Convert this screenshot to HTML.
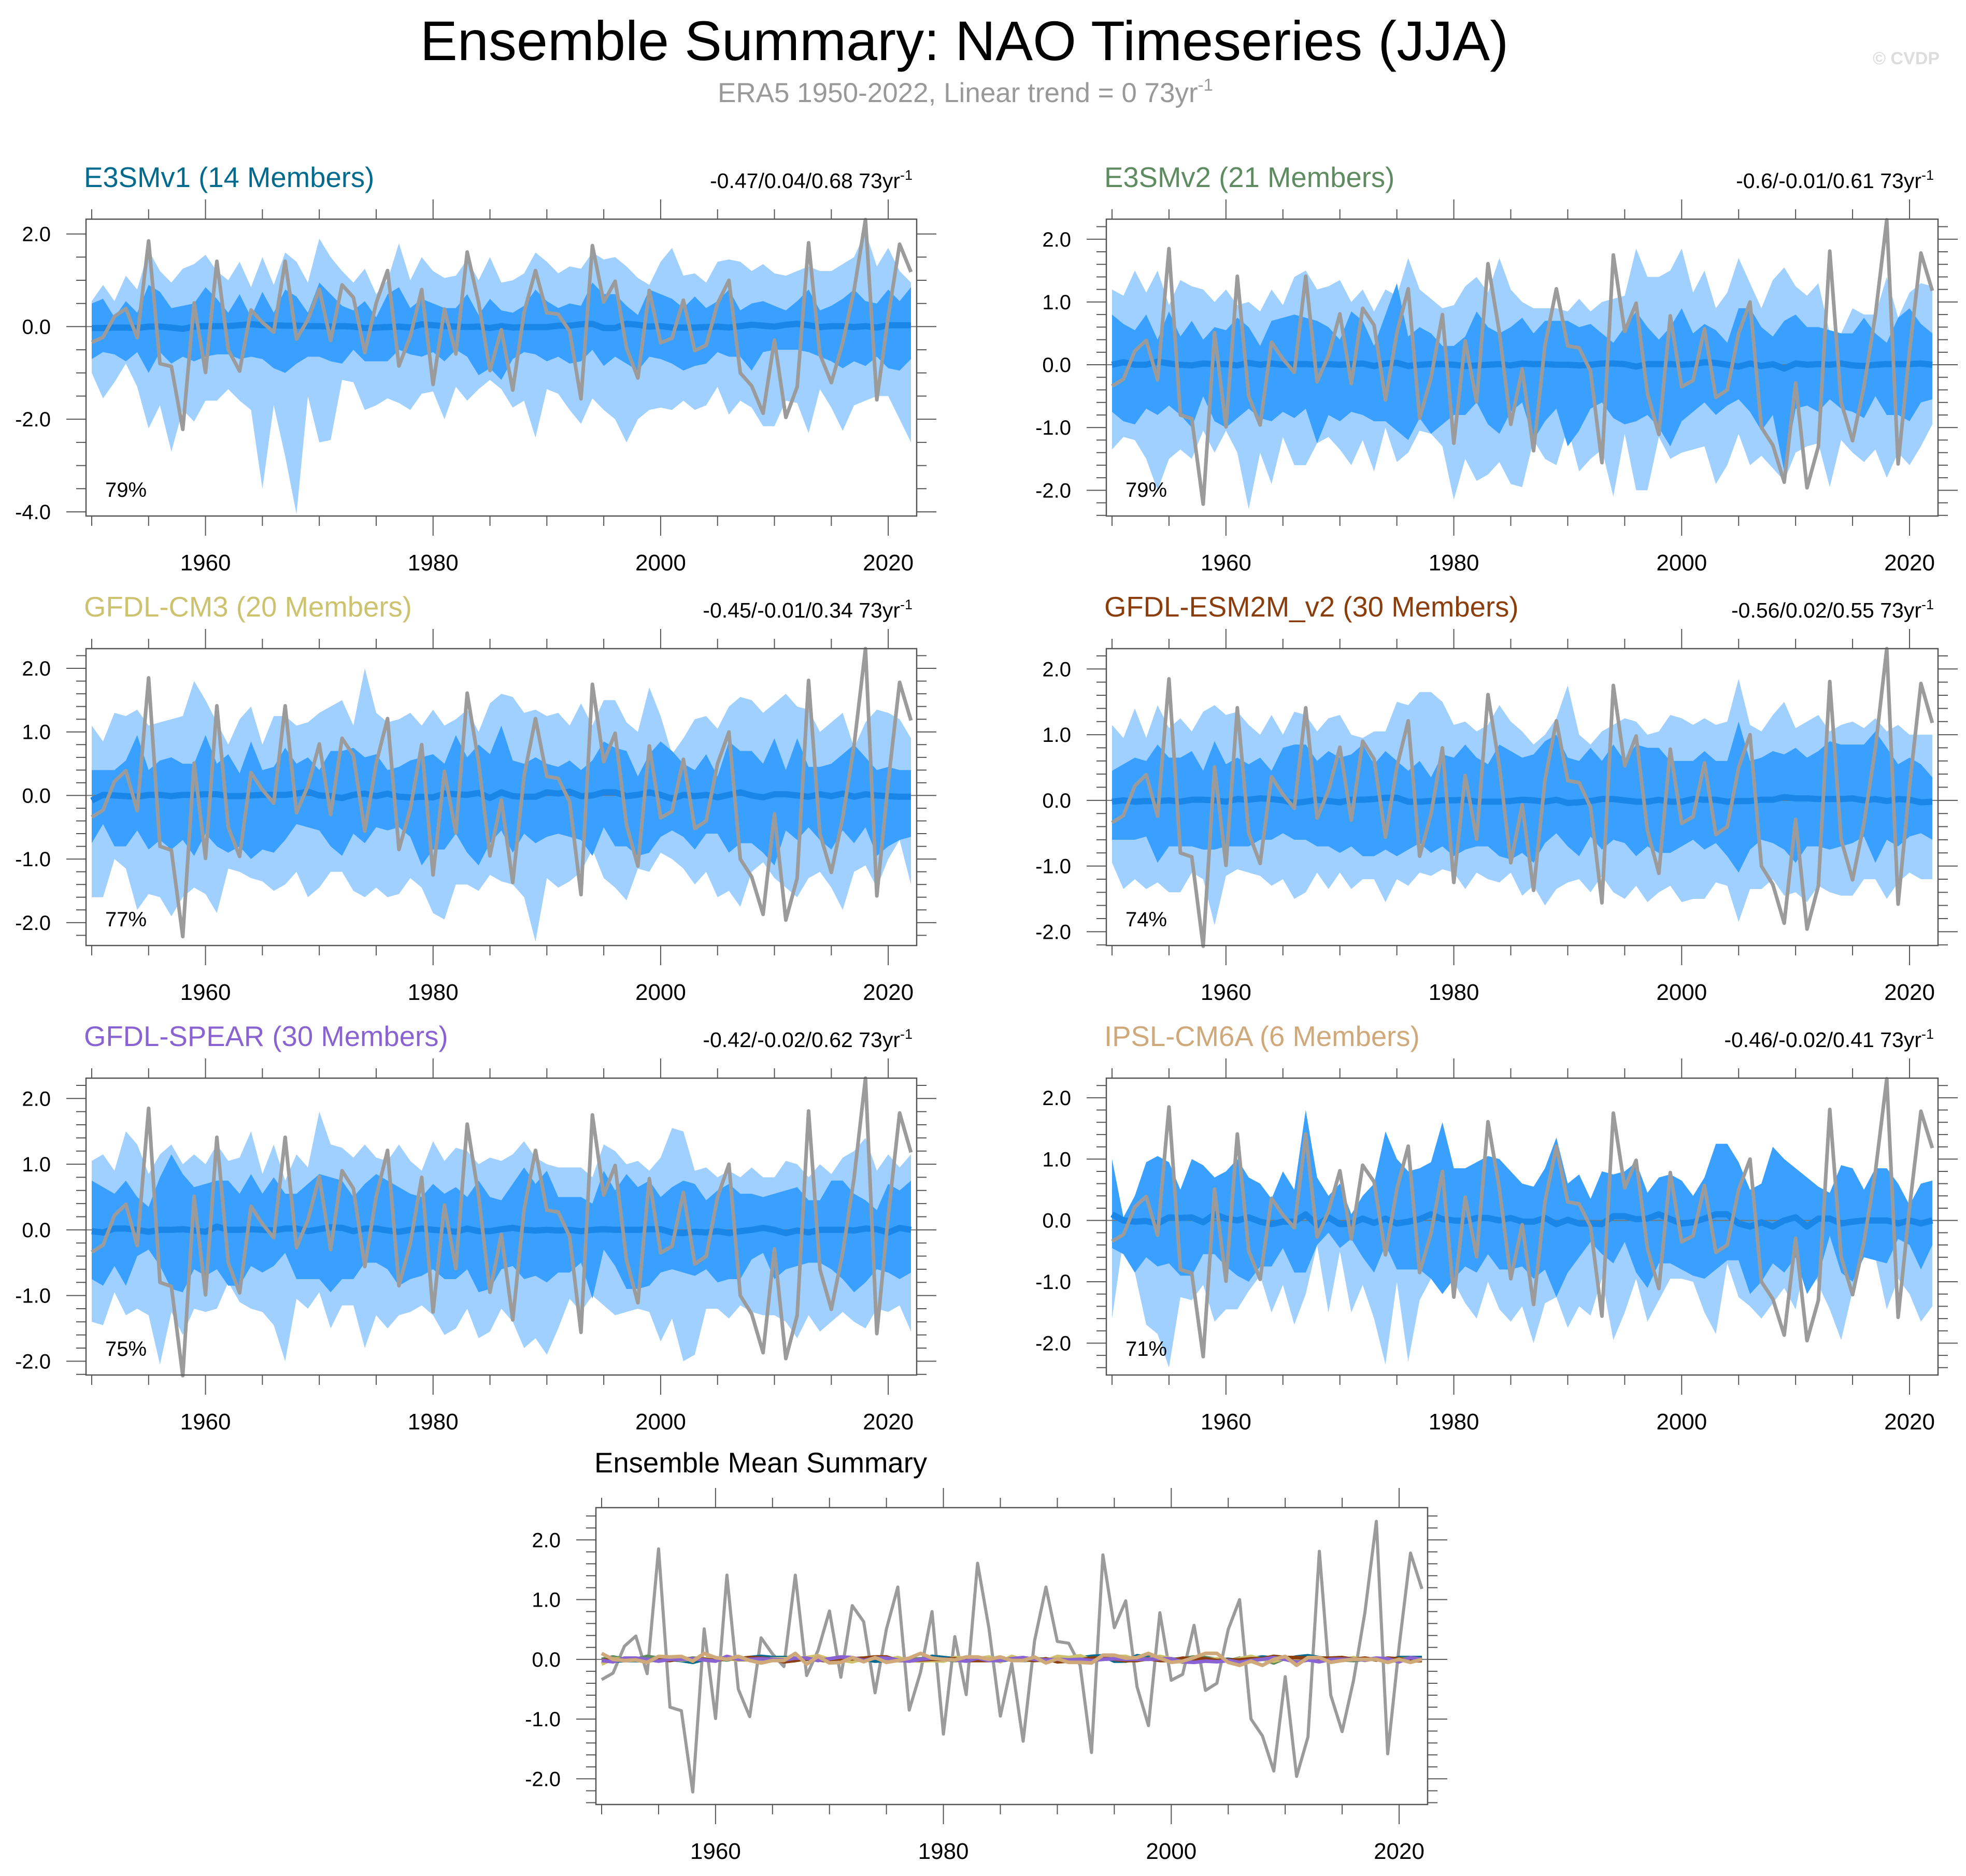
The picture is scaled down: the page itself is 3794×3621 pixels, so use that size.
<!DOCTYPE html>
<html><head><meta charset="utf-8"><style>
html,body{margin:0;padding:0;background:#fff;}
svg{display:block;font-family:"Liberation Sans",sans-serif;}
</style></head><body>
<svg id="chart" width="3794" height="3621" viewBox="0 0 3794 3621" xmlns="http://www.w3.org/2000/svg">
<rect x="0" y="0" width="3794" height="3621" fill="#fff"/>
<text x="1861" y="116" font-size="108" text-anchor="middle" fill="#000">Ensemble Summary: NAO Timeseries (JJA)</text>
<text x="1863" y="197" font-size="53" text-anchor="middle" fill="#999">ERA5 1950-2022, Linear trend = 0 73yr<tspan dy="-22" font-size="33">-1</tspan></text>
<text x="3743" y="124" font-size="34" font-weight="bold" text-anchor="end" fill="#ddd">© CVDP</text>
<text x="1147" y="2842" font-size="54.5" fill="#000">Ensemble Mean Summary</text>
<g id="panels"></g>
</svg>
<script>
const years = [];
for (let y = 1950; y <= 2022; y++) years.push(y);
const obs = [-0.34,-0.23,0.22,0.39,-0.24,1.85,-0.80,-0.86,-2.22,0.51,-0.99,1.41,-0.50,-0.96,0.36,0.09,-0.12,1.41,-0.27,0.15,0.81,-0.30,0.90,0.63,-0.56,0.51,1.21,-0.85,-0.21,0.80,-1.25,0.38,-0.59,1.61,0.52,-0.95,-0.07,-1.37,0.31,1.21,0.30,0.27,-0.10,-1.56,1.75,0.53,0.98,-0.46,-1.11,0.78,-0.35,-0.25,0.57,-0.52,-0.40,0.50,1.00,-1.00,-1.28,-1.87,-0.29,-1.96,-1.30,1.81,-0.60,-1.21,-0.35,0.79,2.31,-1.58,0.21,1.78,1.18];

const p1OuterUpper = [0.55,0.9,0.55,1.1,0.8,1.65,1.2,0.95,1.25,1.35,1.55,1.2,1.0,1.4,0.85,1.5,0.9,1.6,1.4,0.95,1.9,1.5,1.2,0.95,1.25,0.7,1.0,1.8,1.0,1.5,1.2,1.05,1.1,1.45,1.0,1.5,0.95,1.0,1.15,1.6,1.4,1.15,1.3,1.25,1.6,1.45,1.5,1.3,1.05,0.9,1.4,1.7,1.1,1.15,0.95,1.4,1.45,1.4,1.2,1.35,1.15,1.1,1.2,1.3,1.2,1.2,1.35,1.5,2.05,1.3,1.7,1.2,0.95];
const p1InnerUpper = [0.5,0.6,0.2,0.55,0.3,0.9,0.75,0.4,0.45,0.5,0.85,0.6,0.3,0.7,0.2,0.75,0.3,0.8,0.65,0.3,0.95,0.7,0.45,0.35,0.55,0.2,0.7,0.85,0.4,0.6,0.5,0.4,0.4,0.7,0.25,0.6,0.35,0.3,0.45,0.8,0.55,0.4,0.5,0.45,0.95,0.7,0.7,0.45,0.25,0.8,0.7,0.6,0.4,0.65,0.4,0.55,0.8,0.35,0.5,0.55,0.45,0.35,0.55,0.8,0.35,0.45,0.6,0.8,0.55,0.5,0.8,0.55,0.85];
const p1InnerLower = [-0.7,-0.55,-0.6,-0.75,-0.55,-1.0,-0.55,-0.8,-0.65,-0.75,-0.65,-0.6,-0.6,-0.7,-0.65,-0.7,-0.9,-1.0,-0.8,-0.65,-0.65,-0.75,-0.8,-0.5,-0.75,-0.75,-0.75,-0.5,-0.6,-0.65,-0.55,-0.75,-0.5,-0.65,-1.05,-0.9,-1.15,-0.7,-0.55,-0.6,-0.75,-0.65,-0.8,-0.75,-0.5,-0.85,-0.65,-0.8,-0.95,-0.65,-0.7,-0.8,-0.95,-0.85,-0.8,-0.55,-0.65,-0.65,-0.95,-0.55,-0.5,-0.5,-0.5,-0.55,-0.65,-0.75,-0.9,-0.75,-0.85,-0.65,-0.9,-0.95,-0.7];
const p1OuterLower = [-1.0,-1.55,-1.2,-0.8,-1.3,-2.2,-1.7,-2.7,-1.8,-2.05,-1.6,-1.6,-1.35,-1.6,-1.8,-3.5,-1.7,-2.8,-4.05,-1.5,-2.5,-2.45,-1.15,-1.2,-1.8,-1.7,-1.55,-1.65,-1.8,-1.45,-1.4,-2.0,-1.3,-1.6,-1.35,-1.15,-1.35,-1.75,-1.6,-2.4,-1.35,-1.45,-1.8,-2.1,-1.55,-1.8,-2.0,-2.5,-2.0,-1.8,-1.75,-1.8,-1.6,-1.8,-1.7,-1.3,-1.9,-1.6,-1.75,-2.15,-2.15,-1.6,-1.65,-2.3,-1.35,-1.75,-2.25,-1.7,-1.6,-1.5,-1.5,-2.0,-2.5];
const p1Mean = [-0.03,-0.03,-0.02,-0.02,-0.03,0.0,0.0,-0.02,-0.05,0.0,0.01,0.01,0.01,0.03,0.05,0.03,0.03,0.02,0.02,0.01,0.01,0.0,0.01,0.0,-0.03,-0.02,-0.01,0.0,-0.02,0.05,0.03,0.01,0.0,-0.01,0.0,-0.03,0.01,-0.02,-0.01,-0.01,-0.01,0.02,0.02,0.05,0.06,-0.03,-0.03,0.06,0.04,0.0,0.01,-0.02,-0.02,-0.02,-0.01,0.0,-0.02,0.01,0.04,0.02,0.0,0.04,0.06,0.03,-0.01,0.01,0.01,-0.01,0.01,-0.02,0.03,0.03,0.03];

const p2OuterUpper = [1.2,1.1,1.5,1.15,1.5,0.95,1.35,1.25,1.2,1.0,1.2,0.95,1.0,0.85,1.2,0.95,1.4,1.5,1.2,1.25,1.35,1.0,1.2,0.85,1.2,1.1,1.7,1.2,1.05,0.9,0.95,1.25,1.4,1.15,1.7,1.2,1.0,0.9,0.9,0.9,0.85,1.05,0.85,1.0,1.05,1.1,1.85,1.4,1.4,1.5,1.85,1.15,1.5,0.9,1.15,1.7,1.3,0.9,1.35,1.55,1.25,1.1,1.3,0.5,0.5,0.9,0.8,0.8,1.4,0.75,1.15,1.3,1.25];
const p2InnerUpper = [0.8,0.65,0.55,0.8,0.4,0.85,0.45,0.7,0.4,0.6,0.55,0.75,0.6,0.3,0.7,0.75,0.8,0.75,0.7,0.6,0.4,0.85,0.7,0.3,0.8,1.3,0.45,0.6,0.5,0.3,0.3,0.45,0.85,0.6,0.5,0.6,0.75,0.5,0.7,0.7,0.7,0.6,0.65,0.5,0.35,0.6,0.85,0.6,0.4,0.6,0.9,0.5,0.65,0.55,0.35,0.9,0.9,0.6,0.45,0.7,0.8,0.6,0.6,0.55,0.5,0.5,0.75,0.5,0.35,0.75,0.9,0.65,0.5];
const p2InnerLower = [-0.75,-0.9,-0.95,-0.7,-0.8,-0.65,-0.8,-1.0,-0.5,-0.9,-1.0,-0.85,-0.7,-0.85,-0.9,-0.75,-0.85,-0.7,-1.25,-0.8,-0.9,-0.75,-0.8,-0.9,-0.9,-1.05,-1.2,-0.85,-1.1,-0.95,-0.8,-0.8,-0.6,-0.95,-1.1,-0.75,-0.6,-1.2,-0.9,-0.7,-1.3,-1.05,-0.7,-0.6,-0.85,-0.95,-0.9,-0.8,-1.0,-1.3,-0.9,-0.75,-0.6,-0.8,-0.65,-0.55,-0.75,-1.05,-0.8,-1.7,-0.7,-0.65,-0.75,-0.55,-0.7,-0.75,-0.85,-0.5,-0.8,-0.8,-0.9,-0.6,-0.55];
const p2OuterLower = [-1.35,-1.15,-1.2,-1.5,-2.0,-1.5,-1.35,-1.5,-1.05,-1.4,-1.05,-1.4,-2.3,-1.4,-1.9,-1.15,-1.6,-1.6,-1.25,-1.15,-1.35,-1.6,-1.2,-1.7,-1.0,-1.55,-1.4,-1.05,-1.1,-1.3,-2.15,-1.5,-1.85,-1.75,-1.55,-1.9,-1.95,-1.2,-1.5,-1.6,-1.0,-1.7,-1.5,-1.35,-2.1,-1.1,-2.0,-2.0,-1.15,-1.5,-1.4,-1.35,-1.3,-1.9,-1.6,-1.1,-1.6,-1.45,-1.65,-1.85,-1.4,-1.3,-1.25,-1.95,-1.2,-1.4,-1.55,-1.35,-1.8,-1.4,-1.6,-1.3,-0.95];
const p2Mean = [0.0,0.04,0.0,0.0,0.05,0.02,0.0,-0.01,0.02,0.01,0.01,-0.01,0.03,0.0,0.02,0.0,0.01,0.01,0.0,0.01,0.0,0.01,0.02,-0.02,0.02,0.03,-0.02,0.0,0.01,0.01,0.0,-0.02,-0.01,0.0,0.01,-0.01,0.02,0.01,0.01,0.0,0.0,-0.01,0.0,0.02,0.02,0.01,-0.03,0.01,0.01,0.01,0.0,0.01,0.04,0.03,0.0,-0.03,0.02,-0.02,0.01,-0.06,0.02,0.0,0.01,0.0,0.02,-0.01,-0.02,0.0,0.01,0.01,0.01,0.02,0.0];

const p3OuterUpper = [1.1,0.85,1.3,1.25,1.35,1.1,1.15,1.2,1.25,1.8,1.5,1.15,0.8,1.2,1.4,0.8,1.25,1.25,1.1,1.15,1.3,1.4,1.5,1.1,2.0,1.3,1.15,1.2,1.3,1.1,1.35,1.1,1.2,1.35,1.0,1.45,1.6,1.55,1.3,1.35,1.25,1.3,1.1,1.45,1.1,1.5,1.5,1.15,1.0,1.7,1.25,0.65,0.9,1.2,1.25,1.05,1.4,1.55,1.5,1.3,1.45,1.6,1.4,1.35,1.0,1.15,1.3,0.75,1.15,1.35,1.3,1.2,0.9];
const p3InnerUpper = [0.4,0.4,0.4,0.55,0.95,0.4,0.55,0.6,0.5,0.5,0.95,0.5,0.65,0.35,0.85,0.4,0.45,0.75,0.5,0.6,0.4,0.7,0.7,0.75,0.6,0.65,0.4,0.45,0.55,0.6,0.65,0.5,0.95,0.6,0.8,0.65,1.1,0.55,0.5,0.6,0.5,0.45,0.55,0.4,0.55,0.85,0.75,0.7,0.3,0.65,0.85,0.7,0.5,0.4,0.65,0.3,0.85,0.7,0.7,0.5,0.9,0.4,0.9,0.45,0.45,0.5,0.65,0.8,0.6,0.4,0.45,0.4,0.4];
const p3InnerLower = [-0.75,-0.45,-0.8,-0.8,-0.55,-0.85,-0.7,-0.85,-0.7,-0.95,-0.6,-0.8,-0.9,-0.8,-1.0,-0.85,-0.9,-0.7,-0.45,-0.5,-0.55,-0.8,-0.95,-0.6,-0.75,-0.5,-0.55,-0.5,-0.65,-1.1,-0.85,-0.85,-0.6,-0.9,-1.1,-0.75,-0.55,-0.9,-0.6,-0.75,-0.65,-0.6,-0.65,-0.7,-0.95,-0.5,-0.8,-0.8,-0.95,-0.9,-0.65,-0.55,-0.65,-0.85,-0.6,-0.6,-0.9,-0.75,-0.75,-0.9,-1.1,-0.55,-0.7,-0.5,-0.7,-0.85,-0.55,-0.75,-0.5,-0.95,-0.8,-0.7,-0.65];
const p3OuterLower = [-1.6,-1.6,-1.0,-1.15,-1.8,-1.55,-1.6,-1.9,-1.6,-1.45,-1.55,-1.85,-1.15,-1.2,-1.3,-1.35,-1.5,-1.4,-1.2,-1.6,-1.45,-1.2,-1.2,-1.5,-1.6,-1.45,-1.6,-1.55,-1.3,-1.45,-1.85,-1.95,-1.4,-1.4,-1.5,-1.25,-1.35,-1.4,-1.6,-2.3,-1.3,-1.45,-1.35,-1.2,-0.85,-1.3,-1.45,-1.65,-1.15,-1.2,-0.9,-1.0,-1.15,-1.4,-1.2,-1.6,-1.5,-1.75,-1.2,-1.05,-1.3,-1.45,-1.6,-1.3,-1.2,-1.45,-1.8,-1.2,-1.1,-1.45,-1.0,-0.7,-1.4];
const p3Mean = [-0.08,0.01,0.0,-0.01,-0.02,0.01,0.01,-0.01,0.01,0.01,0.02,0.02,-0.01,-0.01,0.0,0.01,0.01,0.01,0.03,0.06,0.0,-0.01,-0.04,0.01,0.03,-0.01,0.03,-0.02,-0.03,-0.02,-0.03,0.03,0.02,0.01,0.04,-0.04,0.05,-0.01,-0.02,-0.02,0.05,0.03,0.06,-0.01,0.0,0.05,0.05,-0.01,0.01,0.05,0.01,-0.05,0.01,-0.01,0.01,-0.03,0.01,0.05,0.0,-0.03,0.02,0.02,0.0,-0.02,0.02,-0.01,0.03,-0.02,0.02,0.0,-0.01,-0.02,-0.02];

const p4OuterUpper = [1.15,0.95,1.4,0.95,1.45,1.1,1.25,1.05,1.35,1.45,1.3,1.35,1.15,1.0,1.3,1.0,1.35,1.3,1.05,1.25,1.3,1.0,0.95,1.05,1.05,1.5,1.45,1.65,1.65,1.5,1.15,1.2,1.05,1.15,1.45,1.2,1.05,0.85,1.0,1.25,1.75,1.0,0.85,1.05,1.15,1.25,1.2,1.0,1.05,1.3,1.25,1.15,1.25,1.15,1.2,1.85,1.15,1.05,1.3,1.5,1.1,1.2,1.3,1.05,1.15,1.2,1.1,1.25,1.05,1.15,1.0,1.0,1.0];
const p4InnerUpper = [0.45,0.55,0.65,0.6,0.85,0.65,0.65,0.75,0.45,0.9,0.55,0.65,0.55,0.65,0.45,0.8,0.85,0.85,0.6,0.75,0.65,0.7,0.85,0.55,0.75,0.6,0.45,0.6,0.35,0.7,0.65,0.85,0.65,0.55,0.85,0.75,0.65,0.7,0.9,1.0,0.65,0.6,0.8,0.6,0.85,0.6,0.85,0.8,0.8,0.6,0.6,0.6,0.75,0.6,0.6,1.2,0.6,0.65,0.75,0.7,0.8,0.65,0.75,0.9,0.85,0.85,0.85,1.05,0.8,0.55,0.65,0.55,0.35];
const p4InnerLower = [-0.6,-0.6,-0.6,-0.55,-0.95,-0.7,-0.7,-0.7,-0.75,-0.75,-0.7,-0.7,-0.7,-0.6,-0.6,-0.5,-0.6,-0.6,-0.7,-0.7,-0.8,-0.7,-0.85,-0.85,-0.75,-0.85,-0.75,-0.65,-0.8,-0.7,-0.85,-0.75,-0.7,-0.7,-0.85,-0.9,-0.8,-0.95,-0.65,-0.5,-0.7,-0.85,-0.55,-0.75,-0.6,-0.65,-0.85,-0.7,-0.8,-0.8,-0.7,-0.6,-0.75,-0.65,-0.85,-1.1,-0.75,-0.6,-0.65,-0.75,-0.95,-0.7,-0.7,-0.75,-0.7,-0.65,-0.55,-0.95,-0.6,-0.7,-0.55,-0.5,-0.6];
const p4OuterLower = [-0.95,-1.35,-1.2,-1.35,-1.25,-1.4,-1.4,-1.1,-1.2,-1.9,-1.15,-1.05,-1.1,-1.15,-1.3,-1.2,-1.5,-1.4,-1.1,-1.35,-1.1,-1.35,-1.2,-1.2,-1.55,-1.2,-1.3,-1.1,-1.15,-1.05,-1.1,-1.35,-1.1,-1.2,-1.25,-1.1,-1.45,-1.3,-1.6,-1.35,-1.25,-1.2,-1.4,-1.15,-1.4,-1.5,-1.3,-1.55,-1.4,-1.3,-1.55,-1.5,-1.5,-1.25,-1.3,-1.85,-1.35,-1.35,-1.2,-1.45,-1.4,-1.55,-1.3,-1.4,-1.45,-1.45,-1.2,-1.2,-1.5,-1.25,-1.1,-1.2,-1.2];
const p4Mean = [-0.02,0.0,-0.02,-0.01,-0.01,0.0,-0.02,0.01,0.01,0.0,-0.02,0.02,0.01,0.03,0.02,0.0,-0.04,-0.02,0.01,-0.01,-0.03,0.01,0.01,0.02,0.04,0.04,-0.02,-0.02,-0.01,0.0,0.0,0.01,-0.02,-0.02,-0.02,-0.01,0.01,0.0,-0.02,0.01,-0.04,-0.03,-0.01,0.02,0.02,0.0,-0.02,-0.02,0.01,-0.02,-0.02,0.02,0.01,0.01,-0.02,-0.01,-0.01,0.01,0.01,0.05,0.03,0.03,0.02,0.02,0.02,0.03,0.0,0.02,-0.01,0.02,0.01,-0.03,-0.02];

const p5OuterUpper = [1.05,1.15,0.9,1.5,1.3,0.85,1.15,1.3,1.0,1.15,1.0,1.3,1.05,1.1,1.5,0.85,1.3,0.75,1.15,0.95,1.8,1.3,1.25,1.1,1.3,1.1,1.05,1.3,1.05,0.9,1.35,1.05,1.25,1.2,1.0,1.1,1.05,1.15,1.35,1.1,1.0,0.95,0.95,0.95,0.8,1.3,1.2,1.0,1.05,0.9,1.1,1.55,1.5,0.9,0.95,0.8,0.9,0.8,0.95,0.8,0.8,1.05,1.0,0.8,1.0,0.85,1.1,1.2,1.4,0.9,1.15,0.95,1.15];
const p5InnerUpper = [0.75,0.65,0.55,0.75,0.5,0.35,0.8,1.15,0.85,0.65,0.7,0.75,0.75,0.55,0.85,0.55,0.8,0.55,0.55,0.7,0.85,0.8,0.75,0.5,0.7,0.85,0.75,0.65,0.55,0.5,0.7,0.55,0.65,0.5,0.75,0.5,0.45,0.7,0.95,0.7,0.9,0.5,0.5,0.5,0.4,0.9,0.6,0.85,0.65,0.75,0.5,0.65,0.75,0.7,0.45,0.6,0.7,0.55,0.55,0.5,0.55,0.6,0.65,0.45,0.45,0.75,0.75,0.55,0.45,0.3,0.7,0.6,0.75];
const p5InnerLower = [-0.75,-0.85,-0.55,-0.85,-0.4,-0.3,-0.55,-0.9,-0.95,-0.6,-0.7,-0.6,-0.85,-0.85,-0.55,-0.65,-0.55,-0.35,-0.75,-0.75,-0.75,-0.95,-0.75,-0.75,-0.5,-0.5,-0.6,-0.85,-0.75,-0.7,-0.6,-0.75,-0.75,-0.6,-0.95,-0.9,-0.6,-0.55,-0.75,-0.7,-0.8,-0.65,-0.65,-0.5,-1.05,-0.3,-0.55,-0.9,-0.9,-0.85,-0.65,-0.6,-0.65,-0.7,-0.6,-0.8,-0.75,-0.75,-0.45,-0.35,-0.75,-0.6,-0.55,-0.5,-0.5,-0.6,-0.75,-0.95,-0.8,-0.6,-0.65,-0.75,-0.65];
const p5OuterLower = [-1.4,-1.45,-0.95,-1.3,-1.2,-1.3,-2.05,-1.25,-1.6,-1.2,-1.25,-1.2,-0.8,-1.1,-1.2,-1.25,-1.45,-2.0,-1.05,-1.2,-0.95,-1.5,-1.15,-1.15,-1.8,-1.3,-1.5,-1.3,-1.25,-1.15,-1.3,-1.6,-1.5,-1.2,-1.65,-1.55,-1.2,-1.4,-1.8,-1.65,-1.9,-1.5,-1.05,-1.25,-1.0,-1.15,-1.3,-1.25,-1.2,-1.25,-1.7,-1.35,-2.0,-1.9,-1.2,-1.2,-1.35,-1.15,-1.25,-1.3,-1.3,-1.4,-1.65,-1.3,-1.55,-1.4,-1.25,-1.4,-1.5,-1.2,-1.25,-1.15,-1.55];
const p5Mean = [-0.02,-0.04,0.02,0.02,0.0,-0.03,0.0,0.0,0.01,-0.01,-0.03,0.05,0.0,0.0,0.01,0.0,-0.01,0.02,0.02,-0.02,0.01,0.04,0.03,-0.02,0.02,0.02,-0.01,-0.03,0.0,0.02,0.0,-0.01,-0.03,0.02,-0.02,-0.02,0.01,0.03,0.0,-0.01,0.0,-0.01,0.0,-0.02,0.0,0.01,0.0,0.0,0.0,0.01,0.01,-0.04,-0.05,-0.03,-0.04,-0.02,-0.05,-0.02,0.0,0.03,0.0,-0.05,-0.01,-0.04,0.0,0.0,0.0,-0.01,0.02,0.01,-0.04,0.03,0.0];

const p6Upper = [1.0,0.05,0.4,0.95,1.05,0.95,0.5,1.0,0.9,0.7,0.8,1.0,0.7,0.6,0.35,0.8,0.5,1.8,0.7,0.4,0.6,0.1,0.4,0.6,1.45,1.0,0.8,0.85,0.95,1.6,0.85,0.85,0.95,1.05,1.0,0.8,0.6,0.55,0.85,1.35,0.6,0.75,0.35,0.8,0.75,0.8,0.95,0.45,0.7,0.75,0.65,0.4,0.7,1.25,1.25,0.95,0.5,0.6,1.2,1.0,0.85,0.7,0.55,0.45,0.9,0.85,0.5,0.85,0.85,0.6,0.25,0.6,0.65];
const p6InnerLower = [-0.45,-0.55,-0.85,-0.6,-0.75,-0.7,-0.9,-0.9,-0.55,-0.55,-0.75,-0.9,-1.0,-0.75,-0.75,-0.45,-0.85,-0.85,-0.4,-0.2,-0.45,-0.3,-0.6,-0.85,-0.4,-0.8,-0.8,-0.8,-0.95,-1.2,-0.95,-0.75,-0.85,-0.55,-0.8,-0.8,-0.75,-0.95,-0.8,-1.25,-0.85,-0.6,-0.35,-0.55,-0.7,-0.35,-0.85,-1.1,-0.7,-0.7,-0.8,-0.9,-0.95,-0.8,-0.65,-0.65,-1.2,-1.0,-0.7,-0.85,-0.6,-1.2,-0.9,-0.25,-0.85,-1.0,-0.6,-0.65,-0.7,-0.3,-0.4,-0.8,-0.4];
const p6OuterLower = [-1.6,-0.3,-0.85,-1.7,-1.85,-2.4,-1.25,-1.3,-1.05,-1.65,-1.45,-1.45,-1.15,-0.9,-1.5,-1.05,-1.7,-1.2,-0.4,-1.5,-0.5,-1.5,-1.05,-1.6,-2.35,-1.0,-2.3,-1.3,-0.95,-0.95,-1.0,-1.35,-1.6,-1.0,-1.45,-1.65,-1.4,-2.0,-1.35,-1.25,-1.75,-1.4,-1.55,-0.95,-1.95,-1.5,-0.95,-1.65,-1.3,-0.95,-0.95,-1.0,-1.5,-1.85,-0.7,-1.25,-1.4,-1.6,-1.35,-1.1,-1.45,-0.5,-1.05,-1.45,-1.95,-1.15,-0.35,-0.6,-1.45,-0.95,-1.2,-1.65,-1.4];
const p6Mean = [0.1,0.0,-0.02,-0.01,-0.05,0.05,0.04,0.05,-0.03,0.1,0.03,0.0,0.05,-0.02,-0.06,-0.02,-0.02,0.1,-0.08,0.05,-0.06,-0.05,0.03,-0.04,0.03,-0.05,-0.02,0.02,0.1,0.02,0.0,-0.01,0.04,0.04,0.0,0.04,-0.02,-0.02,0.04,-0.06,0.01,-0.05,-0.05,-0.06,0.07,0.07,0.02,0.03,0.1,0.02,-0.05,-0.03,0.03,0.1,0.1,-0.05,-0.1,-0.03,-0.1,0.0,0.05,-0.1,0.03,0.03,-0.05,-0.02,0.0,0.0,0.0,-0.05,0.0,-0.05,0.0];

const modelNames = ["E3SMv1 (14 Members)","E3SMv2 (21 Members)","GFDL-CM3 (20 Members)","GFDL-ESM2M_v2 (30 Members)","GFDL-SPEAR (30 Members)","IPSL-CM6A (6 Members)"];
const trendLabels = ["-0.47/0.04/0.68","-0.6/-0.01/0.61","-0.45/-0.01/0.34","-0.56/0.02/0.55","-0.42/-0.02/0.62","-0.46/-0.02/0.41"];
const pctLabels = ["79%","79%","77%","74%","75%","71%"];
const modelColors = ["#006b8f","#5f8b61","#cdc36f","#8b3e0c","#8a63d2","#d0a97a"];
const tickYears = [1960,1980,2000,2020];

const NS = "http://www.w3.org/2000/svg";
const root = document.getElementById("panels");
function mk(tag, attrs, parent) {
  const e = document.createElementNS(NS, tag);
  for (const k in attrs) e.setAttribute(k, attrs[k]);
  (parent || root).appendChild(e);
  return e;
}

const panels = [
  {x0:166,x1:1769,y0:423,y1:996,vmin:-4.09,vmax:2.32,major:2,minor:0.5,ou:p1OuterUpper,iu:p1InnerUpper,il:p1InnerLower,ol:p1OuterLower,mean:p1Mean},
  {x0:2135,x1:3740,y0:423,y1:996,vmin:-2.41,vmax:2.32,major:1,minor:0.2,ou:p2OuterUpper,iu:p2InnerUpper,il:p2InnerLower,ol:p2OuterLower,mean:p2Mean},
  {x0:166,x1:1769,y0:1252,y1:1825,vmin:-2.36,vmax:2.31,major:1,minor:0.2,ou:p3OuterUpper,iu:p3InnerUpper,il:p3InnerLower,ol:p3OuterLower,mean:p3Mean},
  {x0:2135,x1:3740,y0:1252,y1:1825,vmin:-2.21,vmax:2.31,major:1,minor:0.2,ou:p4OuterUpper,iu:p4InnerUpper,il:p4InnerLower,ol:p4OuterLower,mean:p4Mean},
  {x0:166,x1:1769,y0:2081,y1:2654,vmin:-2.21,vmax:2.31,major:1,minor:0.2,ou:p5OuterUpper,iu:p5InnerUpper,il:p5InnerLower,ol:p5OuterLower,mean:p5Mean},
  {x0:2135,x1:3740,y0:2081,y1:2654,vmin:-2.52,vmax:2.32,major:1,minor:0.2,ou:p6Upper,iu:p6Upper,il:p6InnerLower,ol:p6OuterLower,mean:p6Mean}
];
const bottomPanel = {x0:1150,x1:2755,y0:2910,y1:3483,vmin:-2.43,vmax:2.54,major:1,minor:0.2};

function xScale(p, yr) { return p.x0 + (yr - 1949.5) / 73 * (p.x1 - p.x0); }
function yScale(p, v) { return p.y0 + (p.vmax - v) / (p.vmax - p.vmin) * (p.y1 - p.y0); }

function bandPath(p, up, lo) {
  const n = Math.min(years.length, up.length, lo.length);
  let d = "";
  for (let i = 0; i < n; i++) d += (i ? "L" : "M") + xScale(p, years[i]).toFixed(1) + "," + yScale(p, up[i]).toFixed(1);
  for (let i = n - 1; i >= 0; i--) d += "L" + xScale(p, years[i]).toFixed(1) + "," + yScale(p, lo[i]).toFixed(1);
  return d + "Z";
}
function linePts(p, vals) {
  const n = Math.min(years.length, vals.length);
  const pts = [];
  for (let i = 0; i < n; i++) pts.push(xScale(p, years[i]).toFixed(1) + "," + yScale(p, vals[i]).toFixed(1));
  return pts.join(" ");
}

function drawAxes(p, g, name) {
  const frame = mk("rect", {x:p.x0, y:p.y0, width:p.x1-p.x0, height:p.y1-p.y0, fill:"none", stroke:"#555", "stroke-width":2.5}, g);
  
  
  for (let yr = 1950; yr <= 2020; yr += 5) {
    const x = xScale(p, yr);
    const len = (yr % 20 === 0) ? 38 : 19;
    const t1 = mk("line", {x1:x, y1:p.y1, x2:x, y2:p.y1+len, stroke:"#555", "stroke-width":2}, g);
    
    
    const t2 = mk("line", {x1:x, y1:p.y0, x2:x, y2:p.y0-len, stroke:"#555", "stroke-width":2}, g);
    
    
  }
  tickYears.forEach(yr => {
    const t = mk("text", {x:xScale(p, yr), y:p.y1+105, "font-size":44, "text-anchor":"middle", fill:"#000"}, g);
    t.textContent = String(yr);
    
    
  });
  const steps = Math.round(p.major / p.minor);
  const kmin = Math.ceil(p.vmin / p.minor - 1e-6), kmax = Math.floor(p.vmax / p.minor + 1e-6);
  for (let k = kmin; k <= kmax; k++) {
    const v = k * p.minor;
    const y = yScale(p, v);
    const isMajor = (k % steps === 0);
    const len = isMajor ? 38 : 19;
    const a = mk("line", {x1:p.x0, y1:y, x2:p.x0-len, y2:y, stroke:"#555", "stroke-width":2}, g);
    
    
    const b = mk("line", {x1:p.x1, y1:y, x2:p.x1+len, y2:y, stroke:"#555", "stroke-width":2}, g);
    
    
    if (isMajor) {
      const t = mk("text", {x:p.x0-68, y:y+14, "font-size":40, "text-anchor":"end", fill:"#000"}, g);
      t.textContent = v.toFixed(1);
      
      
    }
  }
}

panels.forEach((p, idx) => {
  const name = "panel-" + (idx + 1);
  const g = mk("g", {});
  
  
  const outer = mk("path", {d:bandPath(p, p.ou, p.ol), fill:"#a0d0ff"}, g);
  
  
  const inner = mk("path", {d:bandPath(p, p.iu, p.il), fill:"#39a0ff"}, g);
  
  
  const z = mk("line", {x1:p.x0, y1:yScale(p,0), x2:p.x1, y2:yScale(p,0), stroke:"#777", "stroke-width":2}, g);
  
  
  const ml = mk("polyline", {points:linePts(p, p.mean), fill:"none", stroke:"#1a86e8", "stroke-width":12, "stroke-linejoin":"round"}, g);
  
  
  const ol = mk("polyline", {points:linePts(p, obs), fill:"none", stroke:"#9b9b9b", "stroke-width":7, "stroke-linejoin":"round"}, g);
  
  
  drawAxes(p, g, name);
  const title = mk("text", {x:p.x0-4, y:p.y0-62, "font-size":54.5, fill:modelColors[idx]}, g);
  title.textContent = modelNames[idx];
  
  
  const tr = mk("text", {x:p.x1-8, y:p.y0-60, "font-size":41, "text-anchor":"end", fill:"#000"}, g);
  tr.textContent = trendLabels[idx] + " 73yr";
  const sup = mk("tspan", {dy:-16, "font-size":27}, tr);
  sup.textContent = "-1";
  
  
  const pc = mk("text", {x:p.x0+37, y:p.y1-37, "font-size":40, fill:"#000"}, g);
  pc.textContent = pctLabels[idx];
  
  
});

(function(){
  const p = bottomPanel;
  const g = mk("g", {});
  
  
  const z = mk("line", {x1:p.x0, y1:yScale(p,0), x2:p.x1, y2:yScale(p,0), stroke:"#777", "stroke-width":2}, g);
  
  
  const ol = mk("polyline", {points:linePts(p, obs), fill:"none", stroke:"#9b9b9b", "stroke-width":6, "stroke-linejoin":"round"}, g);
  
  
  panels.forEach((pp, idx) => {
    const l = mk("polyline", {points:linePts(p, pp.mean), fill:"none", stroke:modelColors[idx], "stroke-width":7, "stroke-linejoin":"round"}, g);
    
    
  });
  drawAxes(p, g, "summary");
})();
</script>
</body></html>
